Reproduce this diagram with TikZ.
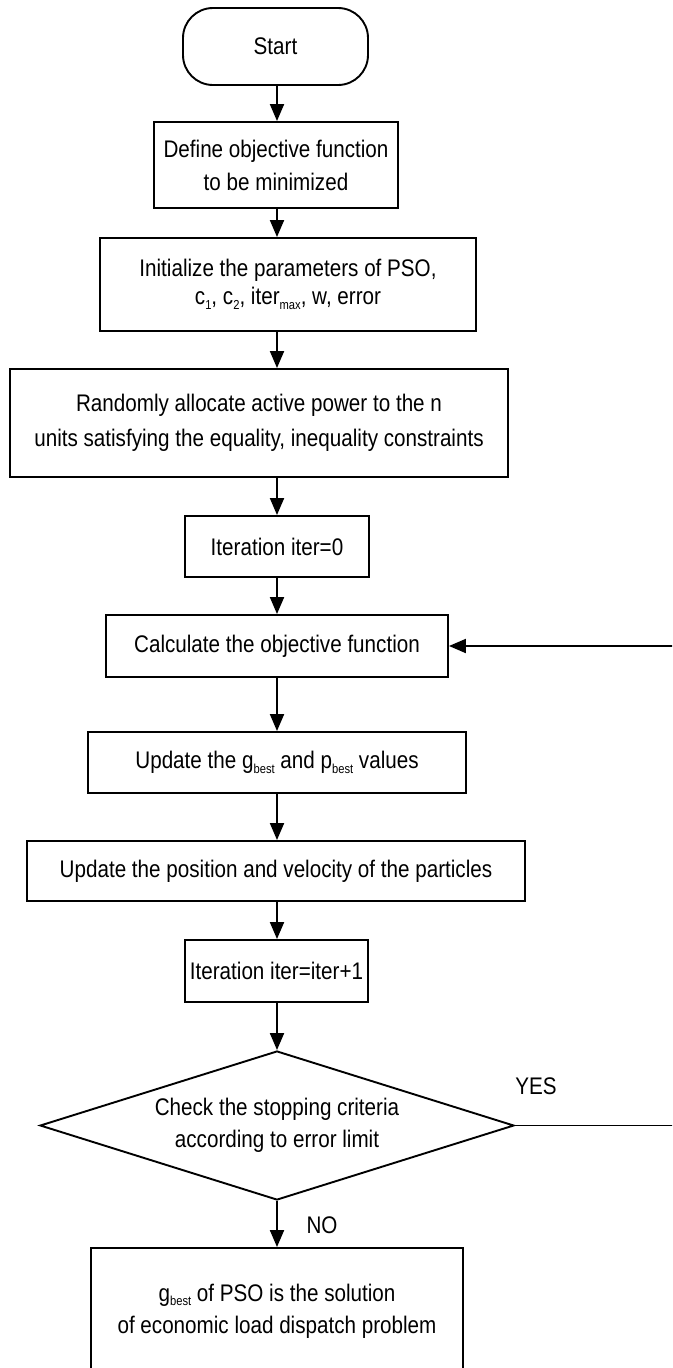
\documentclass[tikz,border=0pt]{standalone}
\usepackage{fontspec}
\setmainfont{Liberation Sans}[FakeStretch=0.86]
\usetikzlibrary{arrows.meta,shapes.geometric}
\newcommand\lowsub[1]{\raisebox{-0.35ex}{\fontsize{13}{13}\selectfont #1}}
\begin{document}
\begin{tikzpicture}[x=1pt,y=-1pt,
  every node/.style={font=\fontsize{24}{32}\selectfont, text=black},
  proc/.style={draw, line width=1.9pt, inner sep=0pt, align=center, rectangle},
  term/.style={proc, rounded corners=30pt},
  dec/.style={draw, line width=1.9pt, diamond, inner sep=0pt, align=center, aspect=3.2},
  arr/.style={line width=1.9pt, -{Triangle[length=17pt,width=14pt]}},
  lbl/.style={inner sep=0pt}]
\useasboundingbox (0,0) rectangle (672,1368);
\begin{scope}
\clip (0,0) rectangle (672,1368);
\node[term, minimum width=185pt, minimum height=77pt] (start) at (275.5,46.5) {Start};
\node[proc, minimum width=244pt, minimum height=86pt, font=\fontsize{24}{33}\selectfont] (def) at (276,165) {Define objective function\\to be minimized};
\node[proc, minimum width=376pt, minimum height=93pt, font=\fontsize{24}{28}\selectfont] (init) at (288,284.5) {Initialize the parameters of PSO,\\c\lowsub{1}, c\lowsub{2}, iter\lowsub{max}, w, error};
\node[proc, minimum width=498pt, minimum height=108pt, font=\fontsize{24}{35}\selectfont] (alloc) at (259,423) {Randomly allocate active power to the n\\units satisfying the equality, inequality constraints};
\node[proc, minimum width=184pt, minimum height=61pt] (it0) at (277,546.5) {Iteration iter=0};
\node[proc, minimum width=342pt, minimum height=62pt] (calc) at (277,646) {Calculate the objective function};
\node[proc, minimum width=378pt, minimum height=61pt] (upd) at (277,762.5) {Update the g\lowsub{best} and p\lowsub{best} values};
\node[proc, minimum width=498pt, minimum height=60pt] (pos) at (276,871) {Update the position and velocity of the particles};
\node[proc, minimum width=183pt, minimum height=62pt] (itn) at (276.5,971) {Iteration iter=iter+1};
\node[dec, minimum width=474pt, minimum height=149pt] (chk) at (277,1125.5) {Check the stopping criteria\\according to error limit};
\node[proc, minimum width=372pt, minimum height=126pt] (sol) at (277,1311) {g\lowsub{best} of PSO is the solution\\of economic load dispatch problem};
\node[lbl] (yes) at (536,1086) {YES};
\node[lbl] (no) at (322,1225) {NO};

\draw[arr] (start.south -| calc.center) -- (def.north -| calc.center);
\draw[arr] (def.south -| calc.center) -- (init.north -| calc.center);
\draw[arr] (init.south -| calc.center) -- (alloc.north -| calc.center);
\draw[arr] (alloc.south -| calc.center) -- (it0.north -| calc.center);
\draw[arr] (it0.south -| calc.center) -- (calc.north);
\draw[arr] (calc.south) -- (upd.north);
\draw[arr] (upd.south) -- (pos.north -| calc.center);
\draw[arr] (pos.south -| calc.center) -- (itn.north -| calc.center);
\draw[arr] (itn.south -| calc.center) -- (chk.north);
\draw[arr] (chk.south) -- (sol.north);
\draw[arr] (chk.east) -- ++(170,0) |- (calc.east);
\end{scope}
\end{tikzpicture}
\end{document}
